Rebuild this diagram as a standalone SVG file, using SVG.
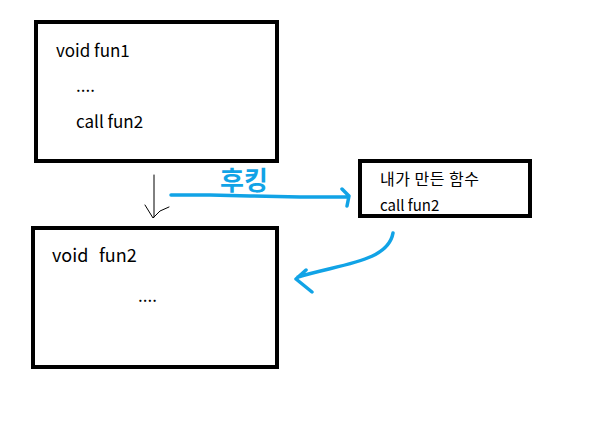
<svg xmlns="http://www.w3.org/2000/svg" width="604" height="426" viewBox="0 0 604 426">
<style>
.box{fill:#fff;stroke:#000;stroke-width:4}
.t{font-family:"Noto Sans CJK KR","Noto Sans",sans-serif;fill:#000}
.blue{fill:none;stroke:#11a3e6;stroke-width:3.5;stroke-linecap:round;stroke-linejoin:round}
.thin{fill:none;stroke:#000;stroke-width:1;stroke-linecap:round}
</style>
<rect width="604" height="426" fill="#fff"/>
<g id="fun1">
<rect class="box" x="36" y="22" width="241" height="139"/>
<text class="t" x="56" y="57" font-size="17">void fun1</text>
<text class="t" x="76" y="92" font-size="17">....</text>
<text class="t" x="76" y="128" font-size="17">call fun2</text>
</g>
<g id="hook">
<rect class="box" x="360" y="161" width="170" height="55"/>
<text class="t" x="380" y="185" font-size="16" letter-spacing="0.5">내가 만든 함수</text>
<text class="t" x="380" y="211" font-size="15">call fun2</text>
</g>
<g id="fun2">
<rect class="box" x="33" y="228" width="244" height="139"/>
<text class="t" x="52" y="262" font-size="18">void</text>
<text class="t" x="99" y="262" font-size="18">fun2</text>
<text class="t" x="138" y="302" font-size="17">....</text>
</g>
<g id="connectors">
<path class="thin" d="M154,175 L154,217 M145,205 L153,218 L160,211 L169,207"/>
<path class="blue" d="M171,195 L210,195 L250,196 L300,197 L347,197 M342,189 L349,196 L347,206"/>
<text x="220" y="190" font-family="'Noto Sans CJK KR',sans-serif" font-size="26" font-weight="bold" fill="#11a3e6">후킹</text>
<path class="blue" d="M393,233 C388,262 340,264 298,277 M306,270 L296,279 L312,292"/>
</g>
</svg>
